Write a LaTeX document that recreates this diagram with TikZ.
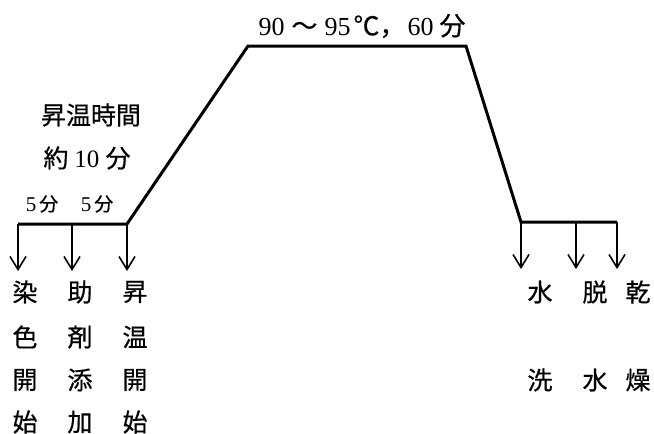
\documentclass[tikz,border=0pt]{standalone}
\usepackage{fontspec}
\setmainfont{Liberation Serif}
\newfontfamily\cjkfam{Noto Sans CJK JP}[FakeBold=0.6]
\newcommand\cjk{\cjkfam}
\usetikzlibrary{arrows.meta}
\begin{document}
\begin{tikzpicture}[x=1pt,y=-1pt,
  curve/.style={line width=3pt,line join=miter},
  arr/.style={line width=1.5pt,-{Straight Barb[length=13pt,width=16pt,line width=1.6pt]}},
  lab/.style={font=\cjk\fontsize{25}{25}\selectfont,inner sep=0pt},
  ann/.style={font=\fontsize{26}{26}\selectfont,inner sep=0pt}]
\useasboundingbox (0,0) rectangle (654,434);
% profile
\coordinate (a0) at (18,224);
\coordinate (a1) at (72,224);
\coordinate (a2) at (127,224);
\coordinate (t1) at (248,46);
\coordinate (t2) at (466,46);
\coordinate (b0) at (521,222);
\coordinate (b1) at (576,222);
\coordinate (b2) at (617,222);
\draw[curve] (a0) -- (a2) -- (t1) -- (t2) -- (b0) -- (b2);
% arrows
\coordinate (e0) at (18,271);
\coordinate (e1) at (72,271);
\coordinate (e2) at (127,271);
\coordinate (f0) at (521,269);
\coordinate (f1) at (576,269);
\coordinate (f2) at (617,269);
\draw[arr] (a0) -- (e0);
\draw[arr] (a1) -- (e1);
\draw[arr] (a2) -- (e2);
\draw[arr] (b0) -- (f0);
\draw[arr] (b1) -- (f1);
\draw[arr] (b2) -- (f2);
% annotations
\node[ann] (top) at (362,26) {90\hspace{7pt}{\cjk ～}\hspace{7pt}95\hspace{3pt}{\cjk ℃}{\cjk ，}\hspace{2pt}60\hspace{6pt}{\cjk 分}};
\node[ann,font=\cjk\fontsize{25}{25}\selectfont] (r1) at (91,115) {昇温時間};
\node[ann,font=\fontsize{25}{25}\selectfont] (r2) at (87,158) {{\cjk 約}\hspace{6pt}10\hspace{6pt}{\cjk 分}};
\node[ann,font=\fontsize{21}{21}\selectfont] (m1) at (42,204) {5\hspace{3pt}{\cjk\fontsize{19}{19}\selectfont 分}};
\node[ann,font=\fontsize{21}{21}\selectfont] (m2) at (97,204) {5\hspace{3pt}{\cjk\fontsize{19}{19}\selectfont 分}};
% left labels
\node[lab] (l11) at (25,292) {染};
\node[lab] (l12) at (25,337) {色};
\node[lab] (l13) at (25,380) {開};
\node[lab] (l14) at (25,422) {始};
\node[lab] (l21) at (80,292) {助};
\node[lab] (l22) at (80,337) {剤};
\node[lab] (l23) at (80,380) {添};
\node[lab] (l24) at (80,422) {加};
\node[lab] (l31) at (135,292) {昇};
\node[lab] (l32) at (135,337) {温};
\node[lab] (l33) at (135,380) {開};
\node[lab] (l34) at (135,422) {始};
% right labels
\node[lab] (r11) at (540,292) {水};
\node[lab] (r12) at (540,380) {洗};
\node[lab] (r21) at (595,292) {脱};
\node[lab] (r22) at (595,380) {水};
\node[lab] (r31) at (638,292) {乾};
\node[lab] (r32) at (638,380) {燥};
\end{tikzpicture}
\end{document}
